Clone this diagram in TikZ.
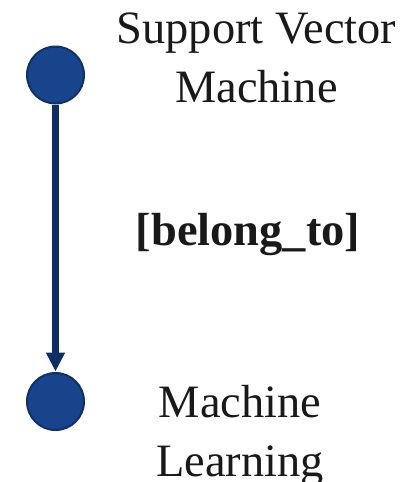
\documentclass[tikz,border=0pt]{standalone}
\usepackage{fontspec}
\setmainfont{Liberation Serif}
\usetikzlibrary{arrows.meta}
\definecolor{nodefill}{RGB}{23,68,138}
\definecolor{nodeedge}{RGB}{15,49,104}
\definecolor{edgeline}{RGB}{14,46,100}
\tikzset{
  entity/.style={circle, fill=nodefill, draw=nodeedge, line width=2pt,
    minimum size=57pt, inner sep=0pt},
  label text/.style={font=\fontsize{46.4}{59}\selectfont, align=center,
    inner sep=0pt, anchor=base, text=black!90},
  relation/.style={draw=edgeline, line width=6.3pt,
    -{Triangle[length=19pt,width=18pt]}, shorten >=0.5pt}
}
\begin{document}
\begin{tikzpicture}[x=1pt, y=-1pt]
  \useasboundingbox (0,0) rectangle (406,482);
  % the two entities
  \node[entity] (svm) at (55.5,75) {};
  \node[entity] (ml) at (55.5,401.5) {};
  % the relation between them
  \draw[relation] (svm) -- (ml);
  % labels (anchored at the baseline of their last line)
  \node[label text] (svmtext) at (256.5,102) {Support Vector\\Machine};
  \node[label text, font=\fontsize{46.4}{59}\selectfont\bfseries] (reltext) at (248,245) {[belong\_to]};
  \node[label text] (mltext) at (240,476) {Machine\\Learning};
\end{tikzpicture}
\end{document}
